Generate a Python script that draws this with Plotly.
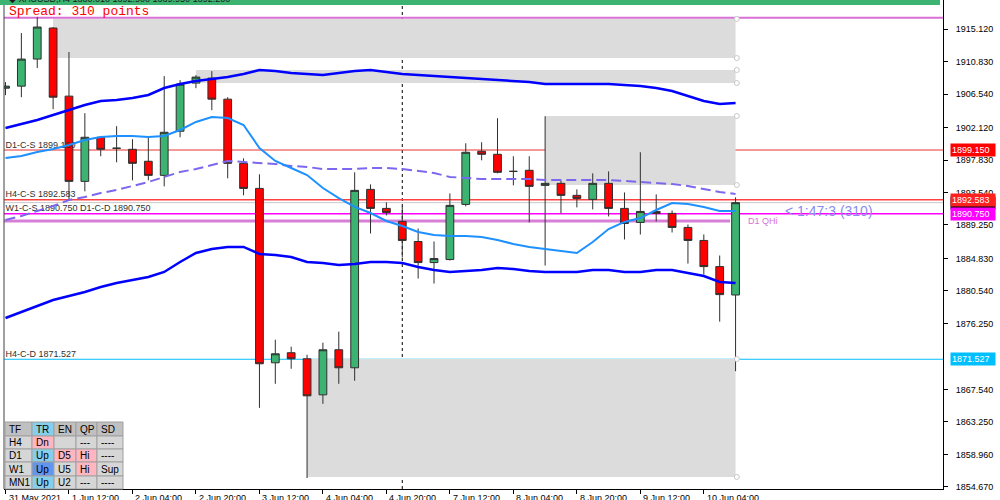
import plotly.graph_objects as go

# ---------------- data ----------------
bar_times = [
    "2021-05-31 20:00",
    "2021-06-01 00:00", "2021-06-01 04:00", "2021-06-01 08:00", "2021-06-01 12:00", "2021-06-01 16:00", "2021-06-01 20:00",
    "2021-06-02 00:00", "2021-06-02 04:00", "2021-06-02 08:00", "2021-06-02 12:00", "2021-06-02 16:00", "2021-06-02 20:00",
    "2021-06-03 00:00", "2021-06-03 04:00", "2021-06-03 08:00", "2021-06-03 12:00", "2021-06-03 16:00", "2021-06-03 20:00",
    "2021-06-04 00:00", "2021-06-04 04:00", "2021-06-04 08:00", "2021-06-04 12:00", "2021-06-04 16:00", "2021-06-04 20:00",
    "2021-06-07 00:00", "2021-06-07 04:00", "2021-06-07 08:00", "2021-06-07 12:00", "2021-06-07 16:00", "2021-06-07 20:00",
    "2021-06-08 00:00", "2021-06-08 04:00", "2021-06-08 08:00", "2021-06-08 12:00", "2021-06-08 16:00", "2021-06-08 20:00",
    "2021-06-09 00:00", "2021-06-09 04:00", "2021-06-09 08:00", "2021-06-09 12:00", "2021-06-09 16:00", "2021-06-09 20:00",
    "2021-06-10 00:00", "2021-06-10 04:00", "2021-06-10 08:00", "2021-06-10 12:00",
]

open_ = [1907.31, 1907.58, 1911.15, 1915.25, 1906.26, 1895.01, 1900.83, 1899.38, 1899.24, 1897.66,
         1895.80, 1901.63, 1907.98, 1908.64, 1905.86, 1897.39, 1894.08, 1871.06, 1872.39, 1871.59,
         1866.83, 1872.78, 1870.40, 1893.95, 1891.44, 1889.72, 1887.07, 1884.29, 1884.69, 1891.97,
         1898.98, 1898.58, 1896.33, 1896.47, 1894.48, 1894.75, 1893.16, 1892.63, 1894.75, 1891.44,
         1889.59, 1891.04, 1890.78, 1888.93, 1887.21, 1883.76, 1880.01]
high = [1908.11, 1914.59, 1916.71, 1915.38, 1912.08, 1904.01, 1900.90, 1902.29, 1900.57, 1900.83,
        1908.90, 1908.37, 1909.03, 1909.56, 1906.12, 1898.05, 1895.94, 1874.11, 1873.18, 1872.12,
        1873.71, 1875.17, 1896.20, 1894.61, 1892.23, 1891.71, 1888.79, 1887.07, 1893.42, 1900.04,
        1900.17, 1903.35, 1898.32, 1898.32, 1903.61, 1895.14, 1893.95, 1896.07, 1896.33, 1893.55,
        1898.85, 1893.29, 1891.17, 1889.32, 1888.00, 1885.22, 1892.90]
low = [1906.39, 1906.12, 1909.96, 1904.54, 1892.50, 1893.69, 1898.32, 1897.52, 1895.14, 1895.14,
       1894.35, 1900.83, 1907.31, 1904.40, 1895.41, 1893.16, 1865.11, 1868.29, 1870.27, 1855.85,
       1865.64, 1868.29, 1868.69, 1888.13, 1890.51, 1884.96, 1882.18, 1881.52, 1884.56, 1891.71,
       1897.79, 1896.07, 1894.48, 1889.59, 1883.90, 1890.78, 1891.57, 1891.31, 1890.38, 1887.34,
       1887.99, 1889.72, 1888.26, 1884.16, 1882.71, 1876.49, 1869.95]
close = [1907.58, 1911.15, 1915.38, 1906.12, 1895.01, 1900.83, 1899.24, 1899.38, 1897.39, 1895.80,
         1901.49, 1907.84, 1908.77, 1905.86, 1897.39, 1894.08, 1870.93, 1872.25, 1871.59, 1866.70,
         1872.78, 1870.40, 1893.82, 1891.44, 1890.91, 1887.21, 1884.29, 1884.82, 1891.84, 1898.85,
         1898.58, 1896.20, 1896.33, 1894.35, 1894.75, 1893.16, 1892.76, 1894.75, 1891.44, 1889.45,
         1891.04, 1890.78, 1888.93, 1887.21, 1883.76, 1880.06, 1892.20]

upper_band = [1902.05, 1902.58, 1903.11, 1903.77, 1904.43, 1905.09, 1905.62, 1905.75, 1906.01, 1906.41,
              1907.33, 1907.86, 1908.26, 1908.52, 1908.79, 1909.18, 1909.71, 1909.58, 1909.31, 1909.18,
              1909.05, 1909.31, 1909.58, 1909.71, 1909.45, 1909.18, 1909.05, 1908.92, 1908.79, 1908.65,
              1908.52, 1908.39, 1908.26, 1908.13, 1907.86, 1907.86, 1907.86, 1907.86, 1907.86, 1907.73,
              1907.60, 1907.33, 1906.94, 1906.28, 1905.62, 1905.22, 1905.35]
middle_band = [1898.09, 1898.36, 1898.89, 1899.28, 1899.81, 1900.47, 1900.87, 1901.00, 1901.00, 1900.87,
               1901.00, 1901.79, 1902.85, 1903.51, 1903.37, 1902.45, 1899.41, 1897.70, 1896.77, 1895.85,
               1894.13, 1892.81, 1891.63, 1890.83, 1889.78, 1889.12, 1888.33, 1887.93, 1887.80, 1887.80,
               1887.67, 1887.27, 1886.74, 1886.35, 1886.08, 1885.82, 1885.55, 1887.01, 1888.72, 1889.65,
               1890.17, 1891.23, 1892.15, 1892.02, 1891.63, 1891.10, 1891.10]
lower_band = [1876.97, 1877.77, 1878.56, 1879.35, 1879.88, 1880.41, 1881.07, 1881.59, 1881.99, 1882.39,
              1883.05, 1884.37, 1885.55, 1886.08, 1886.35, 1886.35, 1885.42, 1885.29, 1885.03, 1884.37,
              1884.23, 1883.97, 1884.10, 1884.37, 1884.37, 1884.23, 1883.71, 1883.31, 1883.05, 1883.18,
              1883.31, 1883.57, 1883.44, 1883.18, 1883.05, 1883.05, 1883.05, 1883.31, 1883.31, 1883.05,
              1883.05, 1883.31, 1883.31, 1882.91, 1882.52, 1881.73, 1881.59]
slow_ma = [1889.91, 1890.44, 1891.10, 1891.76, 1892.55, 1892.95, 1893.47, 1893.87, 1894.40, 1894.93,
           1895.59, 1896.25, 1896.64, 1897.17, 1897.70, 1897.57, 1897.43, 1897.30, 1897.04, 1896.91,
           1896.64, 1896.64, 1896.64, 1896.77, 1896.77, 1896.64, 1896.38, 1896.11, 1895.59, 1895.45,
           1895.32, 1895.32, 1895.32, 1895.32, 1895.19, 1895.19, 1895.19, 1895.19, 1895.19, 1895.06,
           1894.93, 1894.79, 1894.66, 1894.40, 1894.00, 1893.61, 1893.34]

y_ticks = [1915.120, 1910.830, 1906.540, 1902.120, 1897.830, 1893.540, 1889.250,
           1884.830, 1880.540, 1876.250, 1867.540, 1863.250, 1858.960, 1854.670]
x_tick_idx = [0, 4, 8, 12, 16, 20, 24, 28, 32, 36, 40, 44]
x_tick_labels = ["31 May 2021", "1 Jun 12:00", "2 Jun 04:00", "2 Jun 20:00", "3 Jun 12:00", "4 Jun 04:00",
                 "4 Jun 20:00", "7 Jun 12:00", "8 Jun 04:00", "8 Jun 20:00", "9 Jun 12:00", "10 Jun 04:00"]

level_d1_cs = 1899.150
level_h4_cs = 1892.583
level_w1_cs = 1890.750
level_h4_cd = 1871.527
bid_price = 1892.200
spread_level = 1916.60
qhi_level = 1889.78
spread_points = 310

zone_start_idx = [3, 12, 34, 19]
zone_top = [1916.45, 1909.71, 1903.64, 1871.56]
zone_bottom = [1911.29, 1907.99, 1894.53, 1855.99]
zone_end_idx = 46
week_sep_idx = 25

table_header = ["TF", "TR", "EN", "QP", "SD"]
table_rows = [["H4", "Dn", "", "---", "----"],
              ["D1", "Up", "D5", "Hi", "----"],
              ["W1", "Up", "U5", "Hi", "Sup"],
              ["MN1", "Up", "U2", "---", "----"]]
table_colors = [["#C0C0C0", "#87CEEB", "#C0C0C0", "#C0C0C0", "#C0C0C0"],
                ["#D6D6D6", "#FFB6C1", "#D6D6D6", "#D6D6D6", "#D6D6D6"],
                ["#D6D6D6", "#87CEEB", "#FFB6C1", "#FFB6C1", "#D6D6D6"],
                ["#D6D6D6", "#6495ED", "#D6D6D6", "#FFB6C1", "#D6D6D6"],
                ["#D6D6D6", "#87CEEB", "#D6D6D6", "#D6D6D6", "#D6D6D6"]]

# ---------------- layout geometry (pixels) ----------------
W, H = 1000, 500
PL, PR, PT, PB = 4, 943, 0, 489
X_RANGE = [-0.0945, 59.07]
Y_RANGE = [1854.40, 1918.95]
FONT = "Liberation Sans, Arial, sans-serif"


def pxx(px):
    return (px - PL) / (PR - PL)


def pxy(py):
    return (PB - py) / (PB - PT)


x = list(range(len(bar_times)))

fig = go.Figure()

# left-side level labels (under candles)
left_labels = [
    (level_d1_cs, f"D1-C-S {level_d1_cs:.3f}"),
    (level_h4_cs, f"H4-C-S {level_h4_cs:.3f}"),
    (level_w1_cs, f"W1-C-S {level_w1_cs:.3f} D1-C-D {level_w1_cs:.3f}"),
    (level_h4_cd, f"H4-C-D {level_h4_cd:.3f}"),
]
fig.add_trace(go.Scatter(
    x=[0.0] * len(left_labels), y=[v for v, _ in left_labels], text=[t for _, t in left_labels],
    mode="text", textposition="top right", hoverinfo="skip",
    textfont=dict(family=FONT, size=9, color="#303030")))

# bands
fig.add_trace(go.Scatter(x=x, y=slow_ma, mode="lines", hoverinfo="skip",
                         line=dict(color="#7B68EE", width=2, dash="10px,5px")))
fig.add_trace(go.Scatter(x=x, y=upper_band, mode="lines", hoverinfo="skip",
                         line=dict(color="#0000FF", width=2.5)))
fig.add_trace(go.Scatter(x=x, y=lower_band, mode="lines", hoverinfo="skip",
                         line=dict(color="#0000FF", width=2.5)))
fig.add_trace(go.Scatter(x=x, y=middle_band, mode="lines", hoverinfo="skip",
                         line=dict(color="#1E90FF", width=2)))

# zone anchor circles
cx, cy = [], []
for t, b in zip(zone_top, zone_bottom):
    cx += [zone_end_idx + 0.08, zone_end_idx + 0.08]
    cy += [t, b]
fig.add_trace(go.Scatter(x=cx, y=cy, mode="markers", hoverinfo="skip",
                         marker=dict(symbol="circle", size=5, color="white",
                                     line=dict(color="#C8C8C8", width=1))))

# candles
fig.add_trace(go.Candlestick(
    x=x, open=open_, high=high, low=low, close=close,
    increasing=dict(fillcolor="#3CB371", line=dict(color="#2F2F2F", width=1)),
    decreasing=dict(fillcolor="#FF0000", line=dict(color="#2F2F2F", width=1)),
    whiskerwidth=0, hoverinfo="skip"))

shapes = []
# zones
for s, t, b in zip(zone_start_idx, zone_top, zone_bottom):
    shapes.append(dict(type="rect", xref="x", yref="y", x0=s, x1=zone_end_idx, y0=b, y1=t,
                       fillcolor="#DCDCDC", line=dict(width=0), layer="below"))
# week separator
shapes.append(dict(type="line", xref="x", yref="paper", x0=week_sep_idx, x1=week_sep_idx, y0=0, y1=1,
                   line=dict(color="#000000", width=1, dash="3px,3px"), layer="below"))
# horizontal levels
hlines = [
    (spread_level, "#DA70D6", 2),
    (level_d1_cs, "#E83030", 1),
    (level_h4_cs, "#FF4040", 1.5),
    (bid_price, "#C8C8C8", 1),
    (level_w1_cs, "#FF00FF", 1.5),
    (level_h4_cd, "#00BFFF", 1),
]
for v, c, w in hlines:
    shapes.append(dict(type="line", xref="paper", yref="y", x0=0, x1=1, y0=v, y1=v,
                       line=dict(color=c, width=w), layer="below"))
shapes.append(dict(type="line", xref="x", yref="y", x0=X_RANGE[0], x1=zone_end_idx - 0.35,
                   y0=qhi_level, y1=qhi_level, line=dict(color="#D77ED7", width=3), layer="below"))
# left border
shapes.append(dict(type="line", xref="paper", yref="paper", x0=0, x1=0, y0=0, y1=1,
                   line=dict(color="#404040", width=1), layer="above"))
# top title strip
shapes.append(dict(type="rect", xref="paper", yref="paper", x0=pxx(0), x1=pxx(940), y0=pxy(5), y1=1,
                   fillcolor="#3CB371", line=dict(width=0), layer="above"))

annotations = []
annotations.append(dict(xref="paper", yref="paper", x=pxx(7), y=pxy(0), xanchor="left", yanchor="middle",
                        yshift=1, showarrow=False,
                        text="\u25c6 XAUUSD,H4 1880.010 1892.900 1869.950 1892.200",
                        font=dict(family=FONT, size=9, color="#1A1A1A")))
annotations.append(dict(xref="paper", yref="paper", x=pxx(7), y=pxy(12), xanchor="left", yanchor="middle",
                        showarrow=False, text=f"Spread: {spread_points} points",
                        font=dict(family="Liberation Mono, Courier New, monospace", size=13, color="#FF0000")))
annotations.append(dict(xref="x", yref="y", x=49.0, y=1891.10, xanchor="left", yanchor="middle",
                        showarrow=False, text=f"&lt; 1:47:3 ({spread_points})",
                        font=dict(family=FONT, size=14, color="#8B8BEF")))
annotations.append(dict(xref="x", yref="y", x=46.66, y=qhi_level, xanchor="left", yanchor="middle",
                        showarrow=False, text="D1 QHi",
                        font=dict(family=FONT, size=9, color="#DA70D6")))

# right price labels
price_tags = [
    (level_d1_cs, "#FF0000"),
    (bid_price, "#000000"),
    (level_h4_cs, "#FF2020"),
    (level_w1_cs, "#FF00FF"),
    (level_h4_cd, "#00BFFF"),
]
for v, c in price_tags:
    annotations.append(dict(xref="paper", yref="y", x=pxx(950), y=v, xanchor="left", yanchor="middle",
                            showarrow=False, text=f"{v:.3f}", bgcolor=c, borderpad=1, width=42,
                            align="left", font=dict(family=FONT, size=9, color="#FFFFFF")))

# x tick labels
for i, lab in zip(x_tick_idx, x_tick_labels):
    annotations.append(dict(xref="x", yref="paper", x=i, y=0, xanchor="left", yanchor="top",
                            xshift=1, yshift=-2, showarrow=False, text=lab,
                            font=dict(family=FONT, size=9, color="#000000")))

# info table
col_edges = [5, 32, 54, 76, 97, 123]
row_edges = [422, 436, 449, 462, 476, 489]
all_rows = [table_header] + table_rows
for r, row in enumerate(all_rows):
    for c, txt in enumerate(row):
        shapes.append(dict(type="rect", xref="paper", yref="paper",
                           x0=pxx(col_edges[c]), x1=pxx(col_edges[c + 1]),
                           y0=pxy(row_edges[r + 1]), y1=pxy(row_edges[r]),
                           fillcolor=table_colors[r][c], line=dict(color="#A0A0A0", width=1),
                           layer="above"))
        if txt:
            annotations.append(dict(xref="paper", yref="paper", x=pxx(col_edges[c] + 2),
                                    y=pxy((row_edges[r] + row_edges[r + 1]) / 2),
                                    xanchor="left", yanchor="middle", showarrow=False, text=txt,
                                    font=dict(family=FONT, size=10, color="#000000")))

fig.update_layout(
    width=W, height=H,
    margin=dict(l=PL, r=W - PR, t=PT, b=H - PB, pad=0),
    paper_bgcolor="white", plot_bgcolor="white",
    showlegend=False,
    shapes=shapes, annotations=annotations,
    xaxis=dict(range=X_RANGE, showgrid=False, zeroline=False, showline=True, linecolor="#000000",
               linewidth=1, ticks="outside", tickvals=x_tick_idx, ticklen=4, tickcolor="#000000",
               showticklabels=False, rangeslider=dict(visible=False), automargin=False, fixedrange=True),
    yaxis=dict(range=Y_RANGE, side="right", showgrid=False, zeroline=False, showline=True,
               linecolor="#000000", linewidth=1, ticks="outside", ticklen=4, tickcolor="#000000",
               tickvals=y_ticks, ticktext=[f"{v:.3f}" for v in y_ticks], ticklabelstandoff=6,
               tickfont=dict(family=FONT, size=9, color="#000000"), automargin=False, fixedrange=True),
)

fig.write_html("out.html", config={"displayModeBar": False},
               post_script="document.body.style.margin='0px';document.body.style.overflow='hidden';")
